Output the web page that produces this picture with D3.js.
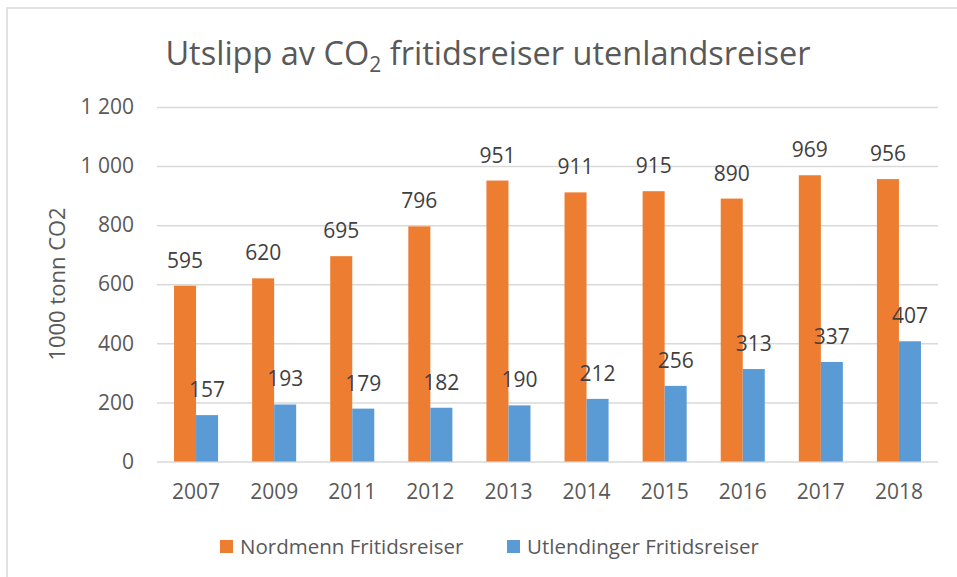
<!DOCTYPE html>
<html>
<head>
<meta charset="utf-8">
<script src="https://cdn.jsdelivr.net/npm/d3@7"></script>
<style>
  body { margin: 0; background: #fff; }
  svg text { font-family: "Open Sans", sans-serif; }
</style>
</head>
<body>
<div id="chart-area"></div>
<script>
// data
const years = ['2007', '2009', '2011', '2012', '2013', '2014', '2015', '2016', '2017', '2018'];
const nordmenn = [595, 620, 695, 796, 951, 911, 915, 890, 969, 956];
const utlendinger = [157, 193, 179, 182, 190, 212, 256, 313, 337, 407];
const seriesNames = ['Nordmenn Fritidsreiser', 'Utlendinger Fritidsreiser'];
const seriesColors = ['#ED7D31', '#5B9BD5'];
const yTicks = [0, 200, 400, 600, 800, 1000, 1200];

const chart = (function () {
    'use strict';

    const width = 957, height = 577;

    const svg = d3.select('#chart-area')
        .append('svg')
        .attr('width', width)
        .attr('height', height);

    // chart frame (runs off the right and bottom edges)
    svg.append('rect')
        .attr('x', 7).attr('y', 8)
        .attr('width', 960).attr('height', 580)
        .attr('fill', 'none')
        .attr('stroke', '#d9d9d9')
        .attr('stroke-width', 1.5);

    const y = d3.scaleLinear()
        .domain([0, 1200])
        .range([461.5, 107]);

    const x0 = d3.scaleBand()
        .domain(years)
        .range([157, 938])
        .paddingInner(0.436)
        .paddingOuter(0.218);

    const x1 = d3.scaleBand()
        .domain(seriesNames)
        .range([0, x0.bandwidth()]);

    const color = d3.scaleOrdinal().domain(seriesNames).range(seriesColors);

    const locale = d3.formatLocale({ decimal: ',', thousands: '\u00a0', grouping: [3], currency: ['', ' kr'] });
    const fmt = locale.format(',d');

    // gridlines + y labels
    const yAxis = d3.axisLeft(y)
        .tickValues(yTicks)
        .tickSize(-(938 - 157))
        .tickPadding(23)
        .tickFormat(fmt);

    const yg = svg.append('g')
        .attr('transform', 'translate(157,0)')
        .call(yAxis);
    yg.select('.domain').remove();
    yg.selectAll('line').attr('stroke', '#d9d9d9').attr('stroke-width', 1.5);
    yg.selectAll('text')
        .attr('fill', '#595959')
        .style('font-size', '21px');

    // x labels
    const xAxis = d3.axisBottom(x0).tickSize(0).tickPadding(23);
    const xg = svg.append('g')
        .attr('transform', 'translate(0,' + y(0) + ')')
        .call(xAxis);
    xg.select('.domain').remove();
    xg.selectAll('text')
        .attr('fill', '#595959')
        .style('font-size', '21px');

    const rows = years.map((yr, i) => ({
        year: yr,
        values: [
            { key: seriesNames[0], value: nordmenn[i] },
            { key: seriesNames[1], value: utlendinger[i] }
        ]
    }));

    const groups = svg.append('g').selectAll('g')
        .data(rows)
        .join('g')
        .attr('transform', d => 'translate(' + x0(d.year) + ',0)');

    groups.selectAll('rect')
        .data(d => d.values)
        .join('rect')
        .attr('x', d => x1(d.key))
        .attr('y', d => y(d.value))
        .attr('width', x1.bandwidth())
        .attr('height', d => y(0) - y(d.value))
        .attr('fill', d => color(d.key));

    groups.selectAll('text.lbl')
        .data(d => d.values)
        .join('text')
        .attr('class', 'lbl')
        .attr('x', d => x1(d.key) + x1.bandwidth() / 2)
        .attr('y', d => y(d.value) - 18)
        .attr('text-anchor', 'middle')
        .attr('fill', '#404040')
        .style('font-size', '21px')
        .text(d => d.value);

    // y axis title
    svg.append('text')
        .attr('transform', 'translate(65,284) rotate(-90)')
        .attr('text-anchor', 'middle')
        .attr('fill', '#595959')
        .style('font-size', '22px')
        .text('1000 tonn CO2');

    // title
    const title = svg.append('text')
        .attr('x', 488)
        .attr('y', 65)
        .attr('text-anchor', 'middle')
        .attr('fill', '#595959')
        .style('font-size', '32.5px');
    title.append('tspan').text('Utslipp av CO');
    title.append('tspan').attr('dy', 7).style('font-size', '21px').text('2');
    title.append('tspan').attr('dy', -7).text(' fritidsreiser utenlandsreiser');

    // legend
    const legend = svg.append('g').selectAll('g')
        .data(seriesNames)
        .join('g')
        .attr('transform', (d, i) => 'translate(' + [220, 507][i] + ',540)');
    legend.append('rect')
        .attr('width', 13).attr('height', 13)
        .attr('fill', d => color(d));
    legend.append('text')
        .attr('x', 20).attr('y', 14)
        .attr('fill', '#595959')
        .style('font-size', '20.5px')
        .text(d => d);

    return { svg: svg };
})();
</script>
</body>
</html>
